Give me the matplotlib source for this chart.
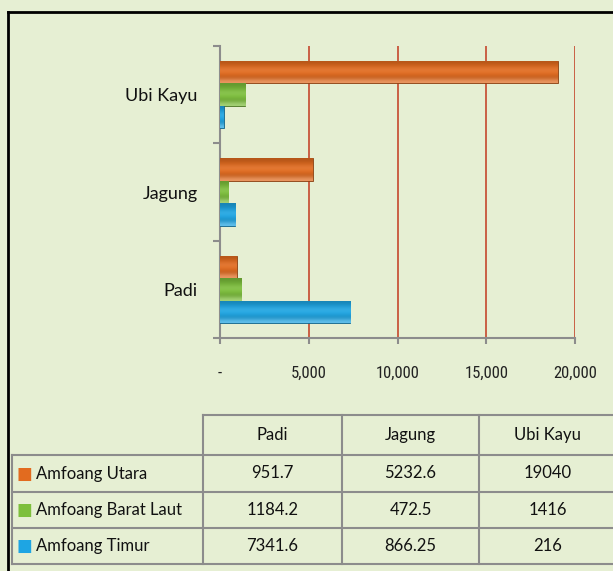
import matplotlib.pyplot as plt
import matplotlib.colors as mcolors
from matplotlib import font_manager
from matplotlib.lines import Line2D
import numpy as np

categories = ['Padi', 'Jagung', 'Ubi Kayu']
series_names = ['Amfoang Utara', 'Amfoang Barat Laut', 'Amfoang Timur']
utara = [951.7, 5232.6, 19040]
barat_laut = [1184.2, 472.5, 1416]
timur = [7341.6, 866.25, 216]
table_text = [['951.7', '5232.6', '19040'],
              ['1184.2', '472.5', '1416'],
              ['7341.6', '866.25', '216']]
x_ticks = [0, 5000, 10000, 15000, 20000]
x_tick_labels = ['-', '5,000', '10,000', '15,000', '20,000']

bg = '#e6efd3'
colors = ['#e26b1f', '#7dbf3c', '#1ea5e3']
W, H = 613, 571

# pick a narrow font for the x tick labels if one is around
names = {f.name for f in font_manager.fontManager.ttflist}
narrow = [n for n in ['Roboto Condensed', 'Liberation Sans Narrow', 'DejaVu Sans Condensed',
                      'Open Sans Condensed'] if n in names]
tick_family = narrow[0] if narrow else 'Roboto'

fig = plt.figure(figsize=(W / 100, H / 100), dpi=100, facecolor=bg)


def fx(px):
    return px / W


def fy(py):
    return 1 - py / H


ax = fig.add_axes([fx(220), fy(338), fx(575) - fx(220), fy(46) - fy(338)])
ax.set_facecolor(bg)

y = np.arange(len(categories))
h = 0.23
offsets = [h, 0, -h]


def shade(c, f):
    r, g, b = mcolors.to_rgb(c)
    if f > 0:
        return (r + (1 - r) * f, g + (1 - g) * f, b + (1 - b) * f)
    return (r * (1 + f), g * (1 + f), b * (1 + f))


for vals, off, c in zip([utara, barat_laut, timur], offsets, colors):
    bars = ax.barh(y + off, vals, height=h, color=c, edgecolor=shade(c, -0.4),
                   linewidth=0.6, zorder=3)
    # simple tube shading
    grad = np.array([shade(c, -0.2), shade(c, -0.08), shade(c, 0.12),
                     shade(c, 0.02), shade(c, -0.15), shade(c, 0.3)])
    grad = grad[:, None, :]
    for b in bars:
        x0, y0 = b.get_x(), b.get_y()
        im = ax.imshow(grad, extent=(x0, x0 + b.get_width(), y0, y0 + b.get_height()),
                       aspect='auto', interpolation='bicubic', zorder=4)
        im.set_clip_path(b)

ax.set_xlim(0, 20000)
ax.set_ylim(-0.5, 2.5)

for xv in x_ticks[1:]:
    ax.axvline(xv, color='#c8553a', lw=1.3, zorder=1)

for s in ['top', 'right']:
    ax.spines[s].set_visible(False)
for s in ['left', 'bottom']:
    ax.spines[s].set_color('#8c8c8c')
    ax.spines[s].set_linewidth(1.5)

ax.set_xticks(x_ticks)
ax.set_xticklabels(x_tick_labels, family=tick_family, fontsize=12, color='#222222')
ax.tick_params(axis='x', length=4, width=1.5, color='#8c8c8c', pad=16)

ax.set_yticks(y)
ax.set_yticklabels(categories, family='Lato', fontsize=13, color='#111111')
ax.tick_params(axis='y', which='major', length=0, pad=16)
ax.set_yticks([-0.5, 0.5, 1.5, 2.5], minor=True)
ax.tick_params(axis='y', which='minor', length=5, width=1.5, color='#8c8c8c')

# data table
tx = [12, 203, 342, 479, 617]
ty = [415, 455, 492, 528, 564]
lc = '#8c8c8c'
lw = 1.5


def hline(py, x0, x1):
    fig.add_artist(Line2D([fx(x0), fx(x1)], [fy(py), fy(py)], color=lc, lw=lw))


def vline(px, y0, y1):
    fig.add_artist(Line2D([fx(px), fx(px)], [fy(y0), fy(y1)], color=lc, lw=lw))


hline(ty[0], tx[1], tx[-1])
for py in ty[1:]:
    hline(py, tx[0], tx[-1])
vline(tx[0], ty[1], ty[-1])
for px in tx[1:]:
    vline(px, ty[0], ty[-1])

for j, cat in enumerate(categories):
    fig.text(fx((tx[j + 1] + tx[j + 2]) / 2), fy((ty[0] + ty[1]) / 2), cat,
             ha='center', va='center', family='Lato', fontsize=12, color='#111111')

for i, name in enumerate(series_names):
    cy = (ty[i + 1] + ty[i + 2]) / 2
    fig.text(fx(17), fy(cy), '\u25a0', ha='left', va='center', fontsize=12,
             color=colors[i], family='DejaVu Sans')
    fig.text(fx(36), fy(cy), name, ha='left', va='center', family='Lato',
             fontsize=12, color='#111111')
    for j in range(len(categories)):
        fig.text(fx((tx[j + 1] + tx[j + 2]) / 2), fy(cy), table_text[i][j],
                 ha='center', va='center', family='Lato', fontsize=12, color='#111111')

# outer frame
fig.add_artist(Line2D([fx(8), fx(W + 5)], [fy(12), fy(12)], color='black', lw=2))
fig.add_artist(Line2D([fx(8), fx(8)], [fy(12), fy(H + 5)], color='black', lw=2))

fig.savefig('out.png', dpi=100, facecolor=bg)
